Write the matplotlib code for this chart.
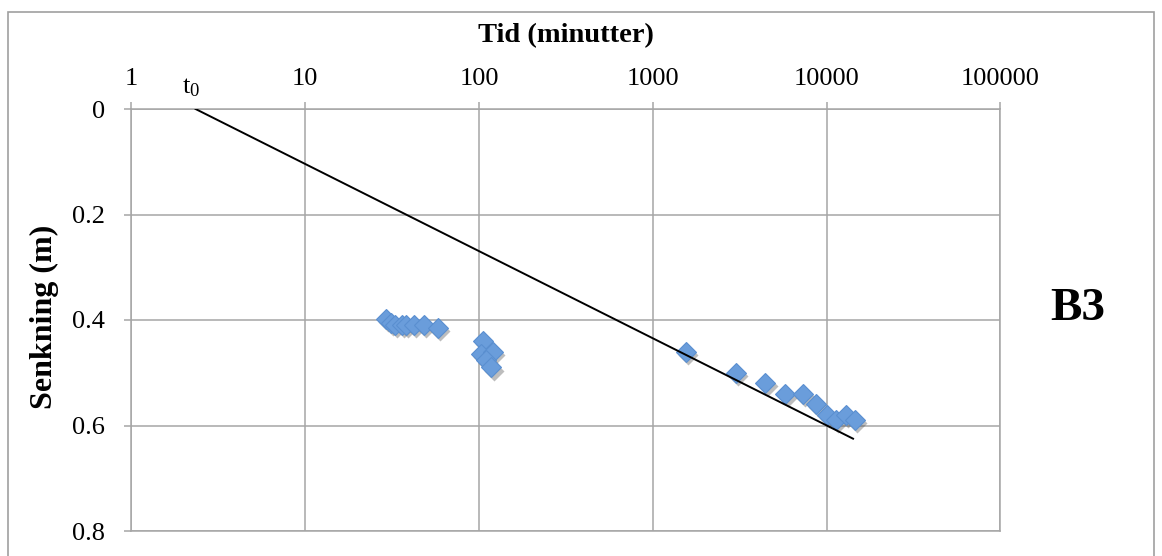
"""Drawdown test B3: semi-log plot of drawdown vs time with straight-line fit."""

import matplotlib

matplotlib.use("Agg")
import matplotlib.pyplot as plt
import matplotlib.transforms as mtransforms
from matplotlib.patches import Rectangle
from matplotlib.ticker import FixedLocator, FixedFormatter, NullLocator

plt.rcParams["font.family"] = ["Liberation Serif", "DejaVu Serif"]
plt.rcParams["mathtext.fontset"] = "custom"
plt.rcParams["mathtext.rm"] = "Liberation Serif"

# observed drawdown (time in minutes, drawdown in m)
time_min = [29, 31, 33, 36, 38, 42, 48, 58,
            105, 103, 120, 110, 118,
            1550, 3000, 4450, 5800, 7350, 8700, 10100, 11300, 13000, 14600]
drawdown_m = [0.398, 0.405, 0.41, 0.41, 0.41, 0.41, 0.41, 0.415,
              0.44, 0.465, 0.46, 0.475, 0.49,
              0.46, 0.50, 0.52, 0.54, 0.54, 0.56, 0.58, 0.59, 0.58, 0.59]

# fitted straight line (Cooper-Jacob), t0 where it crosses zero
fit_time = [2.34, 14200]
fit_drawdown = [0.0, 0.625]

x_ticks = [1, 10, 100, 1000, 10000, 100000]
x_labels = ["1", "10", "100", "1000", "10000", "100000"]
y_ticks = [0, 0.2, 0.4, 0.6, 0.8]
y_labels = ["0", "0.2", "0.4", "0.6", "0.8"]

GRID = "#a6a6a6"
FILL = "#6a9ddb"
EDGE = "#5a8fd0"

W, H = 1162, 556
fig = plt.figure(figsize=(W / 100, H / 100), dpi=100)
ax = fig.add_axes([131.4 / W, 1 - 531 / H, 869 / W, 422 / H])

ax.set_xscale("log")
ax.set_xlim(1, 100000)
ax.set_ylim(0.8, 0)

ax.xaxis.set_major_locator(FixedLocator(x_ticks))
ax.xaxis.set_major_formatter(FixedFormatter(x_labels))
ax.xaxis.set_minor_locator(NullLocator())
ax.yaxis.set_major_locator(FixedLocator(y_ticks))
ax.yaxis.set_major_formatter(FixedFormatter(y_labels))
ax.xaxis.tick_top()

ax.tick_params(axis="x", which="major", direction="out", length=5, width=1.1,
               color=GRID, labelsize=19, pad=9)
ax.tick_params(axis="y", which="major", direction="out", length=5, width=1.1,
               color=GRID, labelsize=19, pad=14)
ax.grid(True, color=GRID, lw=1.1)
for sp in ax.spines.values():
    sp.set_color(GRID)
    sp.set_linewidth(1.1)

# shadow under the diamonds, then the diamonds
shadow = mtransforms.offset_copy(ax.transData, fig=fig, x=1.5, y=-2.2, units="points")
ax.plot(time_min, drawdown_m, ls="none", marker="D", ms=9.8, mfc="#444444",
        mec="none", alpha=0.35, transform=shadow, zorder=3)
ax.plot(time_min, drawdown_m, ls="none", marker="D", ms=9.8, mfc=FILL,
        mec=EDGE, mew=0.8, zorder=4)

ax.plot(fit_time, fit_drawdown, color="black", lw=1.4, zorder=5)

ax.text(191 / W, 1 - 88 / H, r"$\mathregular{t_0}$", transform=fig.transFigure,
        ha="center", va="center", fontsize=19)

fig.text(566 / W, 1 - 36 / H, "Tid (minutter)", ha="center", va="center",
         fontsize=20.5, fontweight="bold")
fig.text(44 / W, 1 - 317 / H, "Senkning (m)", ha="center", va="center",
         rotation=90, fontsize=23, fontweight="bold")
fig.text(1078 / W, 1 - 309 / H, "B3", ha="center", va="center",
         fontsize=34, fontweight="bold")

# outer chart border
fig.patches.append(Rectangle((8 / W, -0.05), 1146 / W, 1.05 - 12 / H,
                             transform=fig.transFigure, fill=False,
                             edgecolor="#a0a0a0", lw=1.2))

fig.savefig("out.png", dpi=100)
